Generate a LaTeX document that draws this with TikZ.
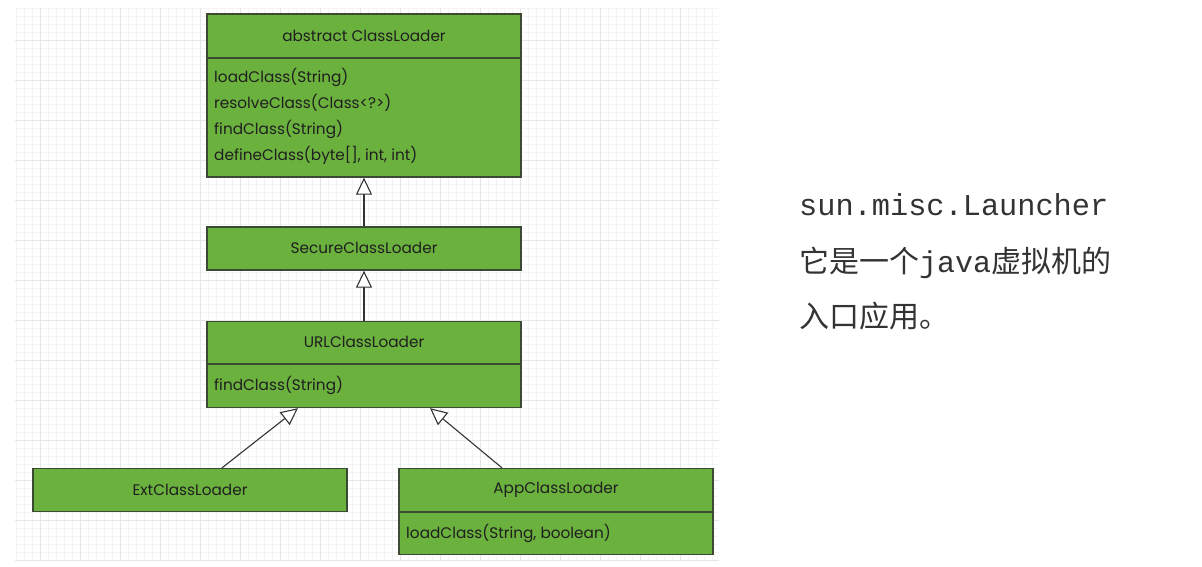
\documentclass[tikz,border=0pt]{standalone}
\usepackage{fontspec}
\setmainfont{Poppins}
\newfontfamily\monofont{Liberation Mono}
\newfontfamily\cjk{Noto Sans CJK SC}
\usetikzlibrary{arrows.meta}
\definecolor{boxgreen}{HTML}{6BB13E}
\definecolor{boxline}{HTML}{3B4A34}
\definecolor{gridminor}{HTML}{F4F4F4}
\definecolor{gridmajor}{HTML}{E6E6E6}
\tikzset{
  umlbox/.style={draw=boxline, line width=1.3pt, fill=boxgreen, rectangle, inner sep=0pt},
  divider/.style={draw=boxline, line width=1.3pt},
  title/.style={font=\fontsize{15.3}{17}\selectfont, text=black!88, inner sep=0pt},
  member/.style={font=\fontsize{15.3}{17}\selectfont, text=black!88, inner sep=0pt, anchor=west},
  inherit/.style={draw=black!80, line width=1.1pt, -{Triangle[open, length=17pt, width=16pt, fill=white, line width=1.1pt]}},
  note/.style={inner sep=0pt, anchor=base west, text=black!80}
}
\begin{document}
\begin{tikzpicture}[x=1pt, y=-1pt]
\useasboundingbox (0,0) rectangle (1202,566);
\fill[white] (0,0) rectangle (1202,566);
% grid
\draw[gridminor, line width=0.5pt] (15,8) grid[step=8pt] (719,561);
\draw[gridmajor, line width=0.6pt] (15,8) grid[step=40pt] (719,561);

% boxes
\node[umlbox, minimum width=314pt, minimum height=163pt] (abs) at (364,95.5) {};
\draw[divider] (abs.west |- 0,58) -- (abs.east |- 0,58);
\node[title] (absT) at (364,36) {abstract ClassLoader};
\node[member] (m1) at (214,77) {loadClass(String)};
\node[member] (m2) at (214,103) {resolveClass(Class<?>)};
\node[member] (m3) at (214,129) {findClass(String)};
\node[member] (m4) at (214,155) {defineClass(byte[], int, int)};

\node[umlbox, minimum width=314pt, minimum height=43pt] (sec) at (364,248.5) {};
\node[title] (secT) at (364,248) {SecureClassLoader};

\node[umlbox, minimum width=314pt, minimum height=86pt] (url) at (364,364.5) {};
\draw[divider] (url.west |- 0,364) -- (url.east |- 0,364);
\node[title] (urlT) at (364,342) {URLClassLoader};
\node[member] (u1) at (214,385) {findClass(String)};

\node[umlbox, minimum width=314pt, minimum height=43pt] (ext) at (190,490) {};
\node[title] (extT) at (190,490) {ExtClassLoader};

\node[umlbox, minimum width=314pt, minimum height=86pt] (app) at (556,511.5) {};
\draw[divider] (app.west |- 0,512) -- (app.east |- 0,512);
\node[title] (appT) at (556,490) {AppClassLoader};
\node[member] (a1) at (406,533) {loadClass(String, boolean)};

% inheritance
\draw[inherit] (sec.north) -- (abs.south);
\draw[inherit] (url.north) -- (sec.south);
\draw[inherit] ([xshift=32pt]ext.north) -- ([xshift=-66pt]url.south);
\draw[inherit] ([xshift=-54pt]app.north) -- ([xshift=66pt]url.south);

% note
\node[note, font=\monofont\fontsize{30.3}{32}\selectfont] (n1) at (799,215) {sun.misc.Launcher};
\node[note, font=\fontsize{30}{32}\selectfont] (n2) at (799,272) {{\cjk 它是一个}{\monofont java}{\cjk 虚拟机的}};
\node[note, font=\fontsize{30}{32}\selectfont] (n3) at (799,327) {\cjk 入口应用。};
\end{tikzpicture}
\end{document}
